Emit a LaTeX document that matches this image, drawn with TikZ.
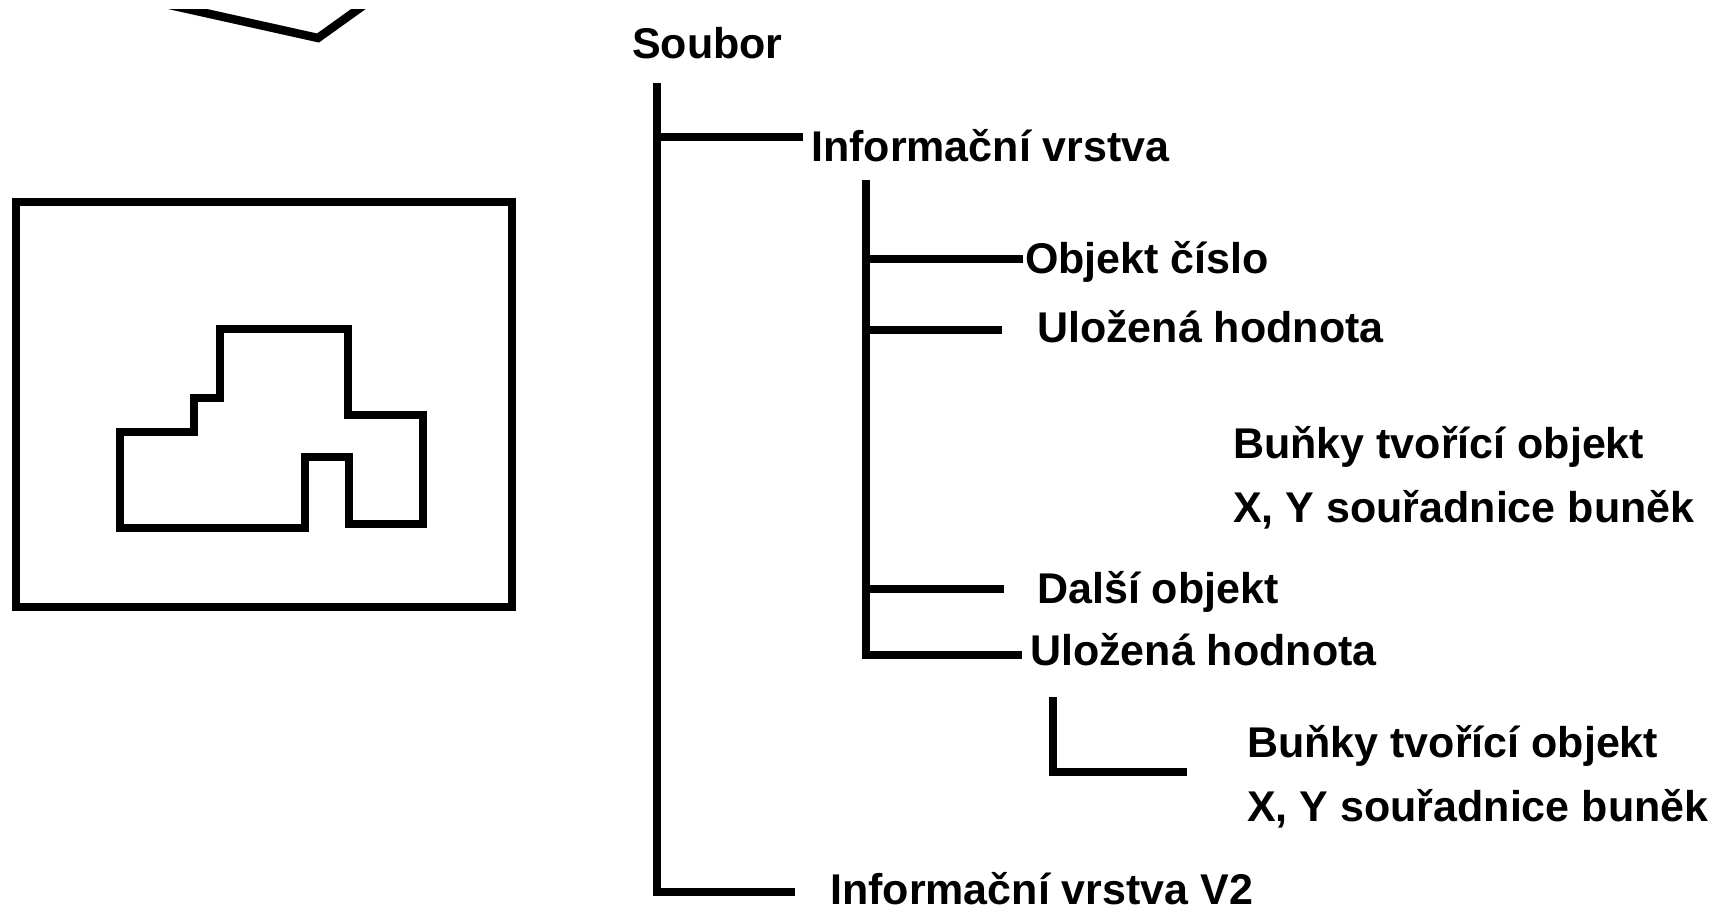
\documentclass[tikz,border=0pt]{standalone}
\usepackage{fontspec}
\setmainfont{Liberation Sans}
\usetikzlibrary{positioning}

\begin{document}
\begin{tikzpicture}[
    x=1pt, y=-1pt,
    treeline/.style={line width=8.5pt, line join=miter},
    frameline/.style={line width=8.5pt, line join=miter},
    itemtext/.style={anchor=base west, inner sep=0pt, text depth=0pt},
    every node/.style={font=\bfseries\fontsize{43}{50}\selectfont}
]
\useasboundingbox (0,0) rectangle (1711,912);

% Cut-off shape at the top
\begin{scope}
\clip (0,10) rectangle (1711,912);
\draw[frameline] (147,0) -- (318,38) -- (371,0);
\end{scope}

% Frame with object
\draw[frameline] (16,202) rectangle (512,607);
\draw[frameline] (220,329) -- (348,329) -- (348,415) -- (423,415) -- (423,524)
    -- (349,524) -- (349,457) -- (305,457) -- (305,528) -- (120,528)
    -- (120,432) -- (194,432) -- (194,398) -- (220,398) -- cycle;

% Tree labels
\node[itemtext] (soubor) at (632,59) {Soubor};
\node[itemtext] (info) at (811,162) {Informační vrstva};
\node[itemtext] (objekt) at (1025,273) {Objekt číslo};
\node[itemtext] (ulozena) at (1037,342) {Uložená hodnota};
\node[itemtext] (bunky) at (1233,458) {Buňky tvořící objekt};
\node[itemtext] (souradnice) at (1233,522) {X, Y souřadnice buněk};
\node[itemtext] (dalsi) at (1037,603) {Další objekt};
\node[itemtext] (ulozenadva) at (1030,665) {Uložená hodnota};
\node[itemtext] (bunkydva) at (1247,757) {Buňky tvořící objekt};
\node[itemtext] (souradnicedva) at (1247,821) {X, Y souřadnice buněk};
\node[itemtext] (infodva) at (830,904) {Informační vrstva V2};

% Line ends
\coordinate (souborbase) at (657,83);
\coordinate (infoend) at (803,137);
\coordinate (infodvaend) at (795,892);
\coordinate (infobase) at (866,180);
\coordinate (objektend) at (1023,259);
\coordinate (ulozenaend) at (1002,330);
\coordinate (dalsiend) at (1004,589);
\coordinate (ulozenadvaend) at (1022,655);
\coordinate (hookbase) at (1053,697);
\coordinate (hookend) at (1187,772);

% Connecting lines
\draw[treeline] (souborbase) |- (infodvaend);
\draw[treeline] (souborbase |- infoend) -- (infoend);
\draw[treeline] (infobase) |- (ulozenadvaend);
\draw[treeline] (infobase |- objektend) -- (objektend);
\draw[treeline] (infobase |- ulozenaend) -- (ulozenaend);
\draw[treeline] (infobase |- dalsiend) -- (dalsiend);
\draw[treeline] (hookbase) |- (hookend);

\end{tikzpicture}
\end{document}
